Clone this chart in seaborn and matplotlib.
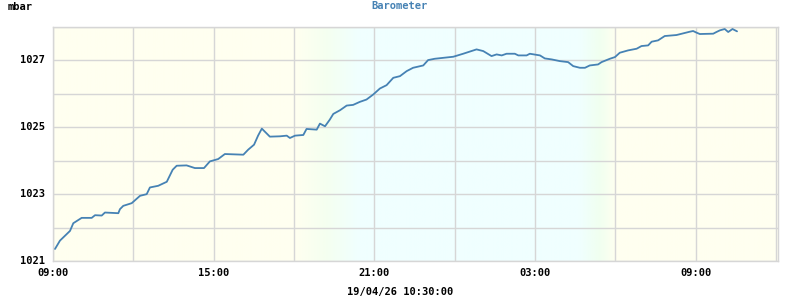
import numpy as np
import pandas as pd
import matplotlib
matplotlib.use("Agg")
import matplotlib.pyplot as plt
import seaborn as sns
from matplotlib.colors import to_rgb

# hours since 09:00 (19/04 start) and pressure in mbar
hours = [0.075, 0.26, 0.635, 0.758, 1.07, 1.445, 1.57, 1.82, 1.94, 2.44, 2.50, 2.625,
         2.94, 3.25, 3.50, 3.62, 3.93, 4.25, 4.47, 4.62, 4.99, 5.30, 5.64, 5.86, 6.17,
         6.42, 7.11, 7.29, 7.51, 7.66, 7.80, 7.95, 8.10, 8.48, 8.73, 8.85, 9.04, 9.35,
         9.47, 9.85, 9.97, 10.16, 10.34, 10.47, 10.72, 10.97, 11.21, 11.46, 11.71, 11.96,
         12.21, 12.46, 12.71, 12.96, 13.21, 13.45, 13.83, 14.01, 14.26, 14.95, 15.32,
         15.82, 16.07, 16.38, 16.57, 16.76, 16.94, 17.25, 17.38, 17.69, 17.81, 18.19,
         18.37, 18.63, 18.93, 19.24, 19.43, 19.68, 19.87, 20.05, 20.36, 20.49, 20.80,
         20.99, 21.17, 21.48, 21.80, 21.98, 22.23, 22.36, 22.60, 22.85, 23.29, 23.54,
         23.79, 23.91, 24.04, 24.16, 24.66, 24.78, 24.91, 25.09, 25.22, 25.38, 25.55]
pressure = [1021.36, 1021.61, 1021.90, 1022.13, 1022.29, 1022.29, 1022.37, 1022.36,
            1022.45, 1022.43, 1022.55, 1022.65, 1022.73, 1022.95, 1023.00, 1023.20,
            1023.25, 1023.37, 1023.73, 1023.85, 1023.86, 1023.78, 1023.78, 1023.98,
            1024.05, 1024.20, 1024.18, 1024.33, 1024.48, 1024.75, 1024.96, 1024.84,
            1024.72, 1024.73, 1024.75, 1024.68, 1024.75, 1024.77, 1024.95, 1024.93,
            1025.11, 1025.03, 1025.23, 1025.40, 1025.51, 1025.65, 1025.67, 1025.76,
            1025.83, 1025.98, 1026.16, 1026.26, 1026.48, 1026.53, 1026.68, 1026.78,
            1026.85, 1027.01, 1027.05, 1027.11, 1027.20, 1027.33, 1027.28, 1027.13,
            1027.18, 1027.15, 1027.20, 1027.20, 1027.15, 1027.15, 1027.20, 1027.15,
            1027.06, 1027.03, 1026.98, 1026.95, 1026.83, 1026.78, 1026.78, 1026.85,
            1026.88, 1026.95, 1027.05, 1027.10, 1027.23, 1027.30, 1027.35, 1027.43,
            1027.45, 1027.56, 1027.60, 1027.73, 1027.76, 1027.81, 1027.86, 1027.88,
            1027.83, 1027.79, 1027.80, 1027.85, 1027.90, 1027.94, 1027.85, 1027.94,
            1027.87]

tick_hours = [0, 6, 12, 18, 24]
tick_labels = ["09:00", "15:00", "21:00", "03:00", "09:00"]
y_ticks = [1021, 1023, 1025, 1027]
title = "Barometer"
unit = "mbar"
footer = "19/04/26 10:30:00"

x_max = 27.08
# day/night background: (hour, colour) stops
bg_stops = [(0.0, "#fffff0"), (9.05, "#fffff0"), (10.2, "#f5fff0"),
            (11.45, "#f0ffff"), (19.65, "#f0ffff"), (20.4, "#f0fff0"),
            (21.05, "#fffff0"), (x_max, "#fffff0")]

sns.set_theme(style="white")
plt.rcParams["font.family"] = ["DejaVu Sans Mono"]

fig = plt.figure(figsize=(8, 3), dpi=100)
ax = fig.add_axes([53 / 800, 1 - 261 / 300, 725 / 800, 234 / 300])

# background gradient
xs = np.linspace(0, x_max, 800)
sh = [s[0] for s in bg_stops]
cols = np.array([to_rgb(s[1]) for s in bg_stops])
img = np.stack([np.interp(xs, sh, cols[:, k]) for k in range(3)], axis=-1)[None, :, :]
ax.imshow(img, extent=[0, x_max, 1021, 1028], aspect="auto", zorder=0)

df = pd.DataFrame({"hours": hours, "pressure": pressure})
sns.lineplot(data=df, x="hours", y="pressure", ax=ax, color="#4682b4",
             linewidth=1.3, zorder=3)

ax.set_xlim(0, x_max)
ax.set_ylim(1021, 1028)
ax.set_xticks(np.arange(0, x_max, 3), minor=False)
ax.set_yticks(np.arange(1021, 1028.01, 1))
ax.grid(True, color="#d6d6d6", linewidth=1, zorder=1)
ax.set_axisbelow(False)
for gl in ax.get_xgridlines() + ax.get_ygridlines():
    gl.set_zorder(1)
ax.set_xticklabels([])
ax.set_yticklabels([])
ax.tick_params(length=0)
for s in ax.spines.values():
    s.set_color("#d6d6d6")
    s.set_linewidth(1)
ax.set_xlabel("")
ax.set_ylabel("")

for h, lab in zip(tick_hours, tick_labels):
    ax.text(h, -0.028, lab, transform=ax.get_xaxis_transform(), ha="center",
            va="top", fontsize=7.5, fontweight="bold", color="black")
for v in y_ticks:
    ax.text(-0.011, v, str(v), transform=ax.get_yaxis_transform(), ha="right",
            va="center", fontsize=7.5, fontweight="bold", color="black")

fig.text(8 / 800, 1 - 7 / 300, unit, ha="left", va="center", fontsize=7.5,
         fontweight="bold", color="black")
fig.text(400 / 800, 1 - 6 / 300, title, ha="center", va="center", fontsize=7.5,
         fontweight="bold", color="#4682b4")
fig.text(400 / 800, 1 - 292 / 300, footer, ha="center", va="center", fontsize=7.5,
         fontweight="bold", color="black")

fig.savefig("out.png", dpi=100)
